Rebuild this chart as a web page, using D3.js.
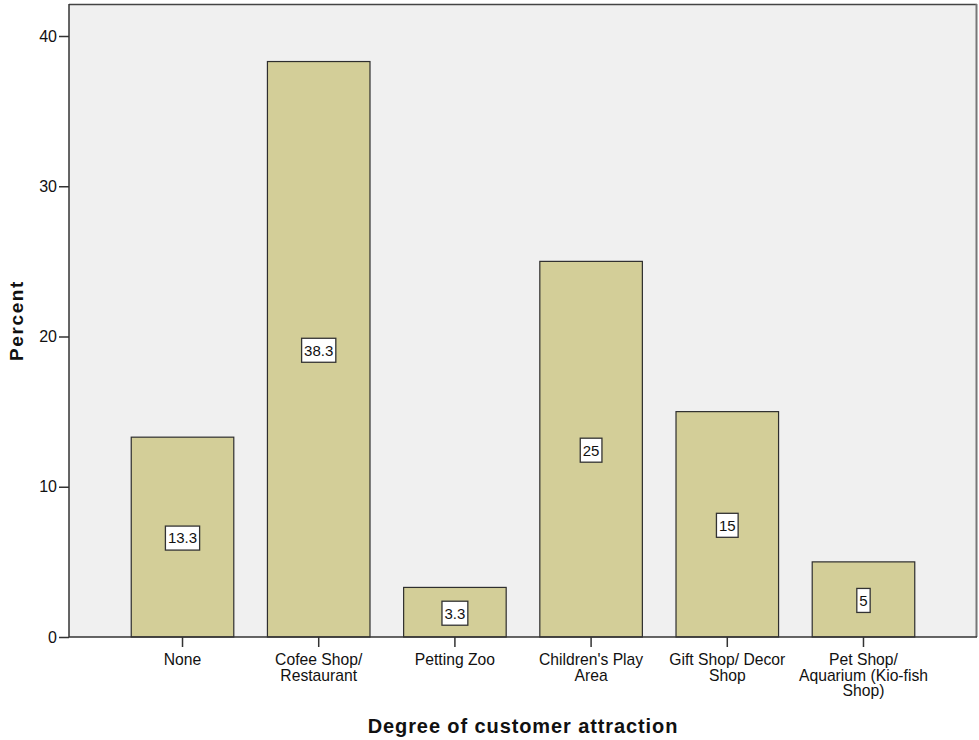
<!DOCTYPE html>
<html>
<head>
<meta charset="utf-8">
<script src="https://cdn.jsdelivr.net/npm/d3@7"></script>
<style>
  html, body { margin: 0; padding: 0; background: #fff; }
  svg { display: block; font-family: "Liberation Sans", Arial, sans-serif; }
</style>
</head>
<body>
<svg id="chart" width="979" height="740"></svg>
<script>
// Share of respondents by attraction type
const categories = [
  ["None"],
  ["Cofee Shop/", "Restaurant"],
  ["Petting Zoo"],
  ["Children's Play", "Area"],
  ["Gift Shop/ Decor", "Shop"],
  ["Pet Shop/", "Aquarium (Kio-fish", "Shop)"]
];
const percents = [13.3, 38.3, 3.3, 25, 15, 5];
const yTicks = [0, 10, 20, 30, 40];

const svg = d3.select("#chart");
const plotLeft = 69, plotRight = 977, plotTop = 4, plotBottom = 637;
const font = "'Liberation Sans', Arial, sans-serif";

const x = d3.scaleBand()
  .domain(d3.range(categories.length))
  .range([plotLeft, plotRight])
  .paddingInner(0.247)
  .paddingOuter(0.457);

const y = d3.scaleLinear().domain([0, 40]).range([plotBottom, 36]);

// plot background
svg.append("rect")
  .attr("x", plotLeft).attr("y", plotTop)
  .attr("width", plotRight - plotLeft).attr("height", plotBottom - plotTop)
  .attr("fill", "#f0f0f0");

// frame: top and right edges
svg.append("line").attr("x1", plotLeft).attr("x2", plotRight).attr("y1", plotTop + 0.5).attr("y2", plotTop + 0.5)
  .attr("stroke", "#444").attr("stroke-width", 1.5);
svg.append("line").attr("x1", plotRight - 0.5).attr("x2", plotRight - 0.5).attr("y1", plotTop).attr("y2", plotBottom)
  .attr("stroke", "#777").attr("stroke-width", 2);

// bars
svg.append("g").selectAll("rect")
  .data(percents)
  .join("rect")
  .attr("x", (d, i) => x(i))
  .attr("y", d => y(d))
  .attr("width", x.bandwidth())
  .attr("height", d => y(0) - y(d))
  .attr("fill", "#d3ce98")
  .attr("stroke", "#2e2e2e")
  .attr("stroke-width", 1.2);

// y axis
const yAxis = svg.append("g")
  .attr("transform", `translate(${plotLeft},0)`)
  .call(d3.axisLeft(y).tickValues(yTicks).tickSize(10).tickPadding(2).tickFormat(d3.format("d")));
yAxis.select(".domain").attr("stroke", "#333").attr("stroke-width", 1.5).attr("d", `M0,${plotTop}V${plotBottom}`);
yAxis.selectAll(".tick line").attr("stroke", "#333").attr("stroke-width", 1.5);
yAxis.selectAll(".tick text").attr("font-size", 16).attr("fill", "#111").attr("font-family", font);

// x axis
const xAxis = svg.append("g")
  .attr("transform", `translate(0,${plotBottom})`)
  .call(d3.axisBottom(x).tickSize(10).tickFormat(""));
xAxis.select(".domain").attr("stroke", "#333").attr("stroke-width", 1.5).attr("d", `M${plotLeft},0H${plotRight}`);
xAxis.selectAll(".tick line").attr("stroke", "#333").attr("stroke-width", 1.5);
xAxis.selectAll(".tick").each(function(d) {
  const t = d3.select(this).append("text")
    .attr("fill", "#111")
    .attr("font-size", 15.7)
    .attr("text-anchor", "middle")
    .attr("font-family", font);
  categories[d].forEach((line, k) => {
    t.append("tspan").attr("x", 0).attr("y", 28 + k * 15.7).text(line);
  });
});

// value labels in white boxes at bar mid-height
const labels = svg.append("g").selectAll("g")
  .data(percents)
  .join("g")
  .attr("transform", (d, i) => `translate(${x(i) + x.bandwidth() / 2},${y(d / 2) + 1})`);
labels.append("text")
  .attr("text-anchor", "middle")
  .attr("dy", "0.36em")
  .attr("font-size", 15)
  .attr("font-family", font)
  .attr("fill", "#111")
  .text(d => String(d));
labels.each(function() {
  const g = d3.select(this);
  const bb = g.select("text").node().getBBox();
  g.insert("rect", "text")
    .attr("x", bb.x - 2.5).attr("y", -12)
    .attr("width", bb.width + 5).attr("height", 24)
    .attr("fill", "#fff").attr("stroke", "#333").attr("stroke-width", 1.3);
});

// axis titles
svg.append("text")
  .attr("transform", `translate(23,${(plotTop + plotBottom) / 2}) rotate(-90)`)
  .attr("text-anchor", "middle")
  .attr("font-size", 19).attr("font-weight", "bold").attr("fill", "#111")
  .attr("letter-spacing", 1.6)
  .attr("font-family", font)
  .text("Percent");
svg.append("text")
  .attr("x", (plotLeft + plotRight) / 2).attr("y", 733)
  .attr("text-anchor", "middle")
  .attr("font-size", 20).attr("font-weight", "bold").attr("fill", "#111")
  .attr("letter-spacing", 0.9)
  .attr("font-family", font)
  .text("Degree of customer attraction");
</script>
</body>
</html>
